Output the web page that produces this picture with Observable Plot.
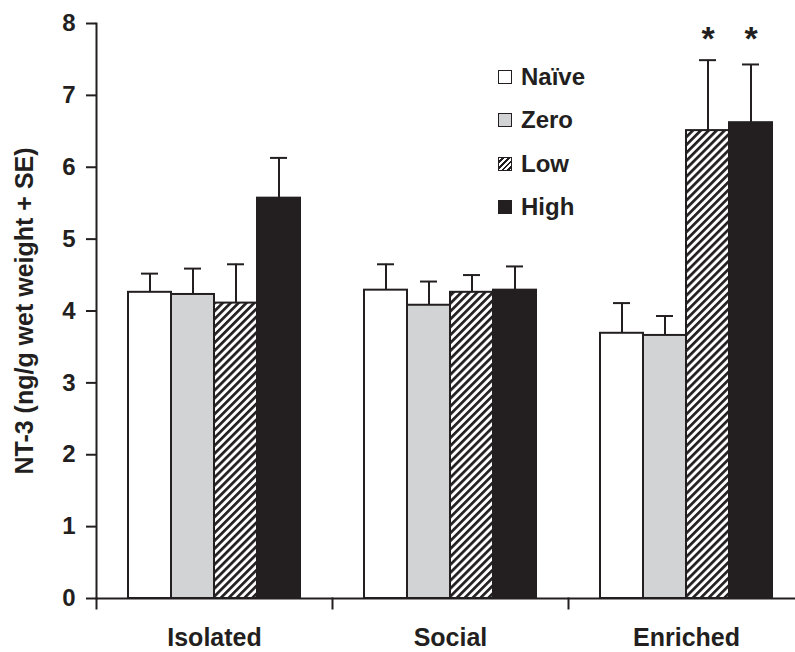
<!DOCTYPE html>
<html>
<head>
<meta charset="utf-8">
<script src="https://cdn.jsdelivr.net/npm/d3@7"></script>
<script src="https://cdn.jsdelivr.net/npm/@observablehq/plot@0.6"></script>
<style>
  body { margin: 0; background: #fff; font-family: "Liberation Sans", Arial, sans-serif; }
  #wrap { position: relative; width: 795px; height: 652px; }
  .legend { position: absolute; left: 498px; top: 55px; color: #231f20; font-weight: bold; font-size: 24px; }
  .legend .row { display: flex; align-items: center; height: 43.5px; line-height: 1; }
  .legend .sw { width: 12px; height: 12px; border: 1.5px solid #231f20; margin-right: 9px; box-sizing: content-box; }
  g[aria-label="y-axis tick label"] text { font-size: 24px !important; font-weight: bold; }
  g[aria-label="y-axis label"] text { font-size: 25px !important; font-weight: bold; }
  g[aria-label="fx-axis tick label"] text { font-size: 25px !important; font-weight: bold; }
</style>
</head>
<body>
<div id="wrap"></div>
<script>
// ---- data ----
const groups = ["Isolated", "Social", "Enriched"];
const treatments = ["Naïve", "Zero", "Low", "High"];
const isolatedMean = [4.26, 4.23, 4.11, 5.57];
const isolatedSE   = [0.26, 0.36, 0.54, 0.56];
const socialMean   = [4.29, 4.08, 4.26, 4.29];
const socialSE     = [0.36, 0.33, 0.24, 0.33];
const enrichedMean = [3.69, 3.66, 6.51, 6.62];
const enrichedSE   = [0.42, 0.27, 0.98, 0.81];
const significant  = [["Enriched", "Low"], ["Enriched", "High"]];
const yTicks = [0, 1, 2, 3, 4, 5, 6, 7, 8];
const yLabel = "NT-3 (ng/g wet weight + SE)";

const fills = ["#ffffff", "#d2d3d5", "url(#hatch)", "#231f20"];
const ink = "#231f20";

const byGroup = {Isolated: [isolatedMean, isolatedSE], Social: [socialMean, socialSE], Enriched: [enrichedMean, enrichedSE]};
const data = groups.flatMap(g => treatments.map((t, i) => ({
  group: g, treatment: t, mean: byGroup[g][0][i], se: byGroup[g][1][i], top: byGroup[g][0][i] + byGroup[g][1][i]
})));
const sig = significant.map(([g, t]) => ({group: g, treatment: t}));

const defs = () => {
  const d = d3.create("svg:defs");
  const p = d.append("pattern").attr("id", "hatch").attr("patternUnits", "userSpaceOnUse")
    .attr("width", 5.6).attr("height", 5.6).attr("patternTransform", "rotate(45)");
  p.append("rect").attr("width", 5.6).attr("height", 5.6).attr("fill", "#fff");
  p.append("rect").attr("width", 2.7).attr("height", 5.6).attr("fill", ink);
  return d.node();
};

const chart = Plot.plot({
  width: 795,
  height: 652,
  marginLeft: 95,
  marginRight: -9,
  marginTop: 23,
  marginBottom: 54,
  style: {fontFamily: '"Liberation Sans", Arial, sans-serif', color: ink, background: "white"},
  fx: {domain: groups, padding: 0, label: null},
  x: {domain: treatments, paddingInner: 0, paddingOuter: 0.7, axis: null},
  y: {domain: [0, 8]},
  color: {type: "ordinal", domain: treatments, range: fills},
  marks: [
    defs,
    Plot.barY(data, {fx: "group", x: "treatment", y: "mean", fill: "treatment", stroke: ink, strokeWidth: 2}),
    Plot.ruleX(data, {fx: "group", x: "treatment", y1: "mean", y2: "top", stroke: ink, strokeWidth: 2}),
    Plot.tickY(data, {fx: "group", x: "treatment", y: "top", insetLeft: 13, insetRight: 13, stroke: ink, strokeWidth: 2}),
    Plot.text(sig, {fx: "group", x: "treatment", text: () => "*", frameAnchor: "top", dy: 2, fontSize: 34, fontWeight: "bold", fill: ink}),
    Plot.ruleY([0], {stroke: ink, strokeWidth: 2}),
    Plot.frame({anchor: "left", facetAnchor: "left", stroke: ink, strokeWidth: 2}),
    Plot.frame({anchor: "left", insetTop: 575, insetBottom: -10, stroke: ink, strokeWidth: 2}),
    Plot.axisY({ticks: yTicks, tickSize: 10, tickPadding: 11, fontSize: 24, fontWeight: "bold", strokeWidth: 2,
      label: yLabel, labelAnchor: "center", labelArrow: "none", labelOffset: 81}),
    Plot.axisFx({anchor: "bottom", tickSize: 0, tickPadding: 30, fontSize: 25, fontWeight: "bold", label: null})
  ]
});

const wrap = document.getElementById("wrap");
wrap.appendChild(chart);

// legend (inside plot area, as in the reference)
const legend = document.createElement("div");
legend.className = "legend";
const swatchCss = [
  "background:#ffffff",
  "background:#d2d3d5",
  "background:repeating-linear-gradient(135deg,#ffffff 0 2px,#231f20 2px 4px)",
  "background:#231f20"
];
treatments.forEach((t, i) => {
  const row = document.createElement("div");
  row.className = "row";
  const sw = document.createElement("div");
  sw.className = "sw";
  sw.style.cssText = swatchCss[i];
  const lab = document.createElement("span");
  lab.textContent = t;
  row.appendChild(sw);
  row.appendChild(lab);
  legend.appendChild(row);
});
wrap.appendChild(legend);
</script>
</body>
</html>
